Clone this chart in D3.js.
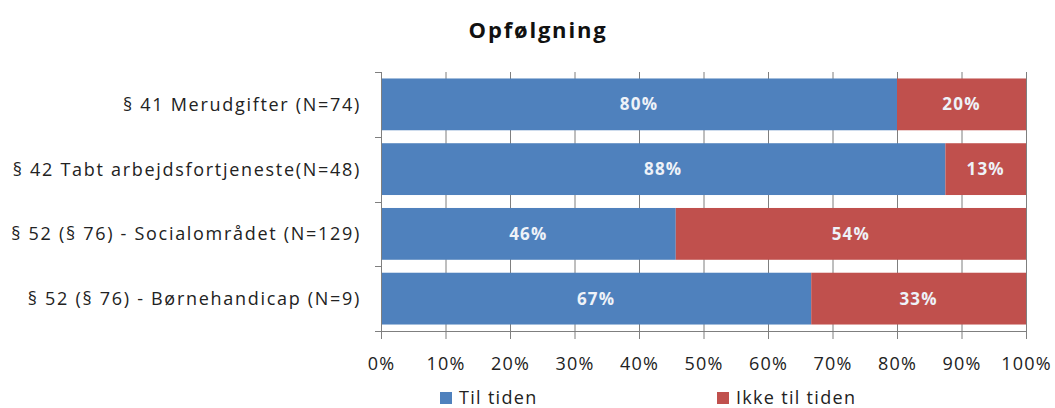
<!DOCTYPE html>
<html>
<head>
<meta charset="utf-8">
<script src="https://cdn.jsdelivr.net/npm/d3@7"></script>
<style>
  body { margin: 0; background: #fff; }
  svg { display: block; }
</style>
</head>
<body>
<svg width="1055" height="408"></svg>
<script>
const categories = [
    "§ 41 Merudgifter (N=74)",
    "§ 42 Tabt arbejdsfortjeneste(N=48)",
    "§ 52 (§ 76) - Socialområdet (N=129)",
    "§ 52 (§ 76) - Børnehandicap (N=9)"
]
const tilTiden = [80, 87.5, 45.7, 66.7]
const ikkeTilTiden = [20, 12.5, 54.3, 33.3]
const seriesNames = ["Til tiden", "Ikke til tiden"]
const colors = ["#4F81BD", "#C0504D"]
const xTicks = [0, 10, 20, 30, 40, 50, 60, 70, 80, 90, 100]

const FONT = "'Open Sans', 'DejaVu Sans', sans-serif"
const PLOT_LEFT = 381, PLOT_RIGHT = 1026, PLOT_TOP = 72, PLOT_BOTTOM = 331

const svg = d3.select("svg")

const x = d3.scaleLinear().domain([0, 100]).range([PLOT_LEFT, PLOT_RIGHT])
const y = d3.scaleBand().domain(categories).range([PLOT_TOP, PLOT_BOTTOM]).paddingInner(0.2).paddingOuter(0.1)

// title
svg.append("text")
    .attr("x", 538).attr("y", 38)
    .attr("text-anchor", "middle")
    .style("font-family", FONT).style("font-weight", "bold").style("font-size", "22px")
    .style("letter-spacing", "1.8px")
    .attr("fill", "#111")
    .text("Opfølgning")

// gridlines
svg.append("g")
    .selectAll("line")
    .data(xTicks.slice(1))
    .join("line")
    .attr("x1", d => x(d) + 0.5).attr("x2", d => x(d) + 0.5)
    .attr("y1", PLOT_TOP).attr("y2", PLOT_BOTTOM)
    .attr("stroke", "#7f7f7f").attr("stroke-width", 1)

// stacked bars
const rows = categories.map((c, i) => ({ cat: c, vals: [tilTiden[i], ikkeTilTiden[i]] }))
const stack = []
rows.forEach(r => {
    let x0 = 0
    r.vals.forEach((v, k) => {
        stack.push({ cat: r.cat, k: k, x0: x0, x1: x0 + v, v: v })
        x0 += v
    })
})

svg.append("g")
    .selectAll("rect")
    .data(stack)
    .join("rect")
    .attr("x", d => x(d.x0))
    .attr("width", d => x(d.x1) - x(d.x0))
    .attr("y", d => y(d.cat))
    .attr("height", y.bandwidth())
    .attr("fill", d => colors[d.k])

svg.append("g")
    .selectAll("text")
    .data(stack)
    .join("text")
    .attr("x", d => (x(d.x0) + x(d.x1)) / 2)
    .attr("y", d => y(d.cat) + y.bandwidth() / 2)
    .attr("dy", "0.36em")
    .attr("text-anchor", "middle")
    .style("font-family", FONT).style("font-weight", "bold").style("font-size", "17px")
    .style("letter-spacing", "1.2px")
    .attr("fill", "#eef2f8")
    .text(d => Math.round(d.v) + "%")

// x axis
const xAxis = svg.append("g")
    .attr("transform", "translate(0," + PLOT_BOTTOM + ")")
    .call(d3.axisBottom(x).tickValues(xTicks).tickSize(8).tickFormat(d => d + "%"))
xAxis.select(".domain").attr("stroke", "#7f7f7f").attr("d", "M" + PLOT_LEFT + ",0.5H" + PLOT_RIGHT)
xAxis.selectAll(".tick line").attr("stroke", "#7f7f7f")
xAxis.selectAll(".tick text")
    .attr("y", 26)
    .style("font-family", FONT).style("font-size", "18px")
    .style("letter-spacing", "1.2px")
    .attr("fill", "#222")

// y axis
const yTickPos = d3.range(categories.length + 1).map(i => PLOT_TOP + i * (PLOT_BOTTOM - PLOT_TOP) / categories.length)
svg.append("g")
    .selectAll("line")
    .data(yTickPos)
    .join("line")
    .attr("x1", PLOT_LEFT - 6).attr("x2", PLOT_LEFT)
    .attr("y1", d => Math.round(d) + 0.5).attr("y2", d => Math.round(d) + 0.5)
    .attr("stroke", "#7f7f7f")
svg.append("line")
    .attr("x1", PLOT_LEFT + 0.5).attr("x2", PLOT_LEFT + 0.5)
    .attr("y1", PLOT_TOP).attr("y2", PLOT_BOTTOM)
    .attr("stroke", "#7f7f7f")

svg.append("g")
    .selectAll("text")
    .data(categories)
    .join("text")
    .attr("x", 361)
    .attr("y", d => y(d) + y.bandwidth() / 2)
    .attr("dy", "0.36em")
    .attr("text-anchor", "end")
    .style("font-family", FONT).style("font-size", "18px")
    .style("letter-spacing", "1.7px")
    .attr("fill", "#222")
    .text(d => d)

// legend
const legendX = [440, 717]
const legend = svg.append("g")
    .selectAll("g")
    .data(seriesNames)
    .join("g")
    .attr("transform", (d, i) => "translate(" + legendX[i] + ",398)")
legend.append("rect")
    .attr("x", 0).attr("y", -6)
    .attr("width", 12).attr("height", 12)
    .attr("fill", (d, i) => colors[i])
legend.append("text")
    .attr("x", 19).attr("dy", "0.36em")
    .style("font-family", FONT).style("font-size", "18px")
    .style("letter-spacing", "1.3px")
    .attr("fill", "#222")
    .text(d => d)
</script>
</body>
</html>
